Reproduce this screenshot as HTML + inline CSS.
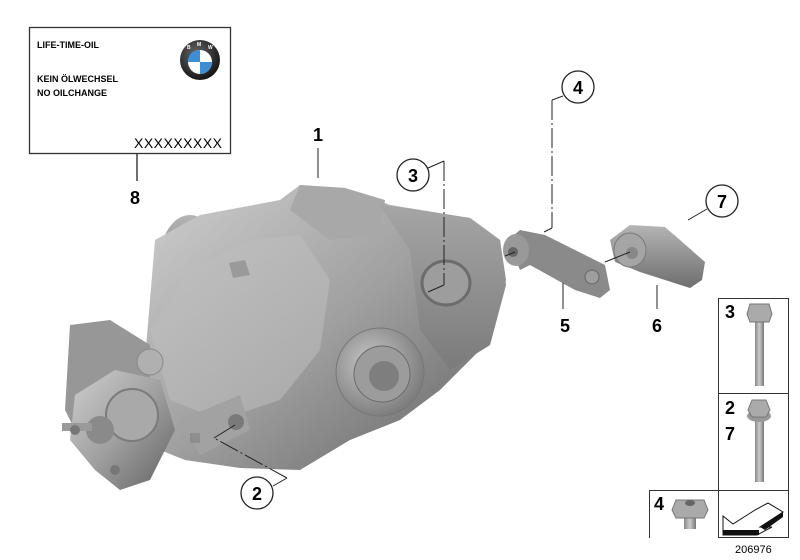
<!DOCTYPE html>
<html><head><meta charset="utf-8"><style>
html,body{margin:0;padding:0;background:#fff;}
svg{display:block}
text{font-family:"Liberation Sans",Arial,sans-serif;font-weight:bold;fill:#000}
</style></head><body>
<svg width="800" height="560" viewBox="0 0 800 560" xmlns="http://www.w3.org/2000/svg">
<defs>
<linearGradient id="g1" x1="0" y1="0" x2="1" y2="1">
<stop offset="0" stop-color="#cfcfcf"/><stop offset="0.5" stop-color="#a0a0a0"/><stop offset="1" stop-color="#626262"/></linearGradient>
<linearGradient id="g2" x1="0" y1="0" x2="0" y2="1">
<stop offset="0" stop-color="#b5b5b5"/><stop offset="1" stop-color="#6e6e6e"/></linearGradient>
<radialGradient id="g3" cx="0.4" cy="0.4" r="0.7">
<stop offset="0" stop-color="#c9c9c9"/><stop offset="1" stop-color="#737373"/></radialGradient>
<linearGradient id="bolt" x1="0" y1="0" x2="1" y2="0">
<stop offset="0" stop-color="#888"/><stop offset="0.5" stop-color="#ccc"/><stop offset="1" stop-color="#777"/></linearGradient>
<radialGradient id="bmw" cx="0.4" cy="0.35" r="0.7"><stop offset="0" stop-color="#666"/><stop offset="1" stop-color="#111"/></radialGradient>
</defs>

<rect x="29.5" y="27.5" width="201" height="126" fill="#fff" stroke="#333" stroke-width="1.3"/>
<text x="37" y="48" font-size="9">LIFE-TIME-OIL</text>
<text x="37" y="82" font-size="9">KEIN ÖLWECHSEL</text>
<text x="37" y="96" font-size="9">NO OILCHANGE</text>
<text x="134" y="148" font-size="14" textLength="88" style="font-weight:normal">XXXXXXXXX</text>
<circle cx="200" cy="60" r="20" fill="url(#bmw)"/>
<circle cx="200" cy="62" r="12" fill="#fff"/>
<path d="M200 62 L200 50 A12 12 0 0 0 188 62 Z" fill="#3a8fd8"/>
<path d="M200 62 L200 74 A12 12 0 0 0 212 62 Z" fill="#3a8fd8"/>
<text x="187" y="49" font-size="5" style="fill:#fff">B</text>
<text x="197" y="46" font-size="5" style="fill:#fff">M</text>
<text x="208" y="49" font-size="5" style="fill:#fff">W</text>
<line x1="137" y1="154" x2="137" y2="181" stroke="#222" stroke-width="1.3"/>
<text x="130" y="204" font-size="18">8</text>

<ellipse cx="190" cy="260" rx="30" ry="45" fill="url(#g2)"/>
<path d="M155 240 L200 215 L280 200 L300 185 L345 188 L390 205 L470 218 L500 240 L506 280 L490 340 L440 390 L400 420 L350 440 L300 470 L240 468 L185 460 L160 450 L148 410 L145 360 Z" fill="url(#g1)"/>
<path d="M300 185 L345 188 L385 200 L380 235 L330 240 L290 210 Z" fill="#a8a8a8"/>
<path d="M380 205 L470 218 L500 240 L506 285 L490 345 L450 370 L420 330 L410 250 Z" fill="#8e8e8e"/>
<path d="M380 205 L470 218 L500 240 L506 285 L490 345 L450 370 L420 330 L410 250 Z" fill="url(#g2)" opacity="0.6"/>
<ellipse cx="446" cy="283" rx="24" ry="22" fill="#9d9d9d" stroke="#6c6c6c" stroke-width="3"/>
<path d="M150 330 L190 270 L250 240 L300 235 L330 280 L320 350 L280 400 L220 420 L170 400 Z" fill="#bdbdbd" opacity="0.55"/>
<path d="M229 263 L245 260 L250 275 L233 278 Z" fill="#9a9a9a"/>
<circle cx="380" cy="372" r="44" fill="url(#g3)" stroke="#777"/>
<circle cx="382" cy="374" r="28" fill="#9c9c9c" stroke="#6a6a6a"/>
<circle cx="384" cy="376" r="15" fill="#7e7e7e"/>
<path d="M70 325 L110 320 L150 345 L150 400 L120 430 L80 440 L65 410 Z" fill="#979797"/>
<path d="M75 395 L115 370 L160 380 L175 430 L150 480 L120 490 L95 470 L70 440 Z" fill="url(#g1)"/>
<circle cx="132" cy="415" r="26" fill="#a9a9a9" stroke="#7b7b7b" stroke-width="2"/>
<circle cx="100" cy="430" r="14" fill="#8a8a8a"/>
<rect x="62" y="423" width="30" height="8" fill="#9a9a9a"/>
<circle cx="75" cy="430" r="5" fill="#777"/>
<circle cx="115" cy="470" r="5" fill="#777"/>
<circle cx="150" cy="362" r="13" fill="#b0b0b0" stroke="#888"/>
<path d="M180 420 L240 395 L250 430 L200 455 Z" fill="#a2a2a2"/>
<circle cx="236" cy="422" r="8" fill="#7a7a7a"/>
<rect x="190" y="433" width="10" height="10" fill="#8e8e8e"/>

<path d="M508 240 L520 230 L545 235 L605 265 L610 290 L600 298 L575 290 L530 265 L520 270 Z" fill="#8a8a8a"/>
<ellipse cx="516" cy="250" rx="13" ry="16" fill="#999"/>
<circle cx="513" cy="252" r="5" fill="#666"/>
<circle cx="592" cy="277" r="7" fill="#9e9e9e" stroke="#666"/>
<path d="M610 240 L630 225 L665 227 L680 240 L705 262 L702 280 L690 288 L640 272 L615 262 Z" fill="url(#g2)"/>
<ellipse cx="630" cy="250" rx="16" ry="17" fill="#a5a5a5" stroke="#7a7a7a"/>
<circle cx="632" cy="253" r="6" fill="#888"/>
<line x1="505" y1="256" x2="515" y2="252" stroke="#222" stroke-width="1"/>
<line x1="605" y1="262" x2="630" y2="252" stroke="#222" stroke-width="1"/>

<g fill="#fff" stroke="#222" stroke-width="1.3">
<circle cx="578" cy="87" r="16"/><circle cx="413" cy="175" r="16"/>
<circle cx="722" cy="201" r="16"/><circle cx="257" cy="493" r="16"/>
</g>
<g font-size="18" text-anchor="middle">
<text x="578" y="94">4</text><text x="413" y="182">3</text>
<text x="722" y="208">7</text><text x="257" y="500">2</text>
<text x="318" y="141">1</text><text x="565" y="332">5</text><text x="657" y="332">6</text>
</g>
<g stroke="#222" stroke-width="1" fill="none">
<line x1="318" y1="148" x2="318" y2="178"/>
<polyline points="428,168 444,161"/>
<line x1="444" y1="161" x2="444" y2="285" stroke-dasharray="20 3 2 3"/>
<polyline points="444,285 428,292"/>
<polyline points="563,96 552,100"/>
<line x1="552" y1="100" x2="552" y2="228" stroke-dasharray="20 3 2 3"/>
<polyline points="552,228 544,232"/>
<line x1="707" y1="209" x2="688" y2="220"/>
<line x1="563" y1="283" x2="563" y2="309"/>
<line x1="657" y1="285" x2="657" y2="309"/>
<polyline points="273,486 287,478"/>
<line x1="287" y1="478" x2="214" y2="438" stroke-dasharray="20 3 2 3"/>
<polyline points="214,438 235,425"/>
</g>

<g stroke="#333" stroke-width="1" fill="none">
<rect x="718.5" y="298.5" width="70" height="239"/>
<line x1="718" y1="393.5" x2="788" y2="393.5"/>
<line x1="649" y1="490.5" x2="788" y2="490.5"/>
<line x1="649.5" y1="490" x2="649.5" y2="538"/>
</g>
<text x="725" y="318" font-size="18">3</text>
<text x="725" y="414" font-size="18">2</text>
<text x="725" y="440" font-size="18">7</text>
<text x="654" y="510" font-size="18">4</text>
<rect x="755" y="318" width="9" height="68" fill="url(#bolt)"/>
<path d="M750 304 L769 304 L772 314 L769 322 L750 322 L747 314 Z" fill="#aaa" stroke="#777"/>
<rect x="755" y="420" width="9" height="62" fill="url(#bolt)"/>
<ellipse cx="759" cy="416" rx="12" ry="6" fill="#999"/>
<path d="M752 400 L766 400 L770 410 L766 417 L752 417 L748 410 Z" fill="#aaa" stroke="#777"/>
<rect x="684" y="515" width="12" height="14" fill="url(#bolt)"/>
<path d="M676 500 L704 500 L708 510 L704 518 L676 518 L672 510 Z" fill="#aaa" stroke="#777"/>
<ellipse cx="690" cy="503" rx="5" ry="3" fill="#666"/>
<path d="M723 516 L733 524 L755 510 L768 503 L783 512 L760 527 L772 527 L757 535 L723 535 Z" fill="#fff" stroke="#111" stroke-width="1"/>
<rect x="723" y="530" width="36" height="5" fill="#111"/>
<path d="M760 527 L783 512 L783 517 L765 530 Z" fill="#111"/>
<text x="735" y="553" font-size="11" style="font-weight:normal" fill="#222">206976</text>
</svg>
</body></html>
